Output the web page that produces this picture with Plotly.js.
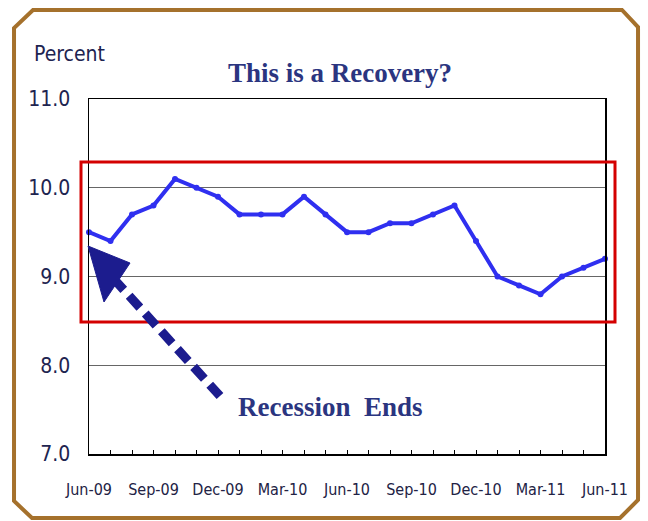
<!DOCTYPE html>
<html>
<head>
<meta charset="utf-8">
<script src="https://cdn.plot.ly/plotly-3.0.1.min.js"></script>
<style>
html,body{margin:0;padding:0;background:#fff;}
#chart{width:648px;height:521px;}
</style>
</head>
<body>
<div id="chart"></div>
<script>
// ---- data ----
const months = ["Jun-09","Jul-09","Aug-09","Sep-09","Oct-09","Nov-09","Dec-09",
  "Jan-10","Feb-10","Mar-10","Apr-10","May-10","Jun-10","Jul-10","Aug-10","Sep-10",
  "Oct-10","Nov-10","Dec-10","Jan-11","Feb-11","Mar-11","Apr-11","May-11","Jun-11"];
const unemployment = [9.5,9.4,9.7,9.8,10.1,10.0,9.9,9.7,9.7,9.7,9.9,9.7,9.5,9.5,9.6,9.6,9.7,9.8,9.4,9.0,8.9,8.8,9.0,9.1,9.2];
const tickLabels = ["Jun-09","","","Sep-09","","","Dec-09","","","Mar-10","","","Jun-10","","","Sep-10","","","Dec-10","","","Mar-11","","","Jun-11"];
const yTicks = [7,8,9,10,11];
const yTickText = ["7.0","8.0","9.0","10.0","11.0"];

// ---- layout helpers (pixel -> paper) ----
const L=89, R=605, T=99, B=454;
const px = x => (x-L)/(R-L);
const py = y => (B-y)/(B-T);
const xIdx = months.map((m,i)=>i);

const navy = '#2b3580';
const blue = '#2f2ff0';
const border = '#a5712c';
const narrow = 'Liberation Sans Narrow, DejaVu Sans Condensed, Liberation Sans, Arial, sans-serif';

function poly(pts){
  return 'M' + pts.map(p=>px(p[0]).toFixed(4)+','+py(p[1]).toFixed(4)).join(' L') + ' Z';
}

const trace = {
  x: xIdx, y: unemployment, type:'scatter', mode:'lines+markers',
  line:{color:blue, width:4},
  marker:{color:blue, size:6},
  hoverinfo:'skip', cliponaxis:false
};

const layout = {
  width:648, height:521,
  margin:{l:L, r:648-R, t:T, b:521-B},
  paper_bgcolor:'#ffffff', plot_bgcolor:'#ffffff',
  showlegend:false,
  title:{text:'This is a Recovery?', x:340/648, xanchor:'center', y:1-73/521, yanchor:'middle',
    font:{family:'Liberation Serif, serif', size:27, color:navy, weight:'bold'}},
  xaxis:{
    range:[0,24], tickmode:'array', tickvals:xIdx, ticktext:tickLabels,
    ticks:'inside', ticklen:4, tickcolor:'#000', tickwidth:1,
    showline:true, linecolor:'#000', linewidth:1.5, mirror:true,
    showgrid:false, zeroline:false, ticklabelstandoff:20,
    tickfont:{family:narrow, size:16, color:'#222244'}
  },
  yaxis:{
    range:[7,11], tickmode:'array', tickvals:yTicks, ticktext:yTickText,
    ticks:'', showline:true, linecolor:'#000', linewidth:1.5, mirror:true,
    showgrid:true, gridcolor:'#666', gridwidth:1, zeroline:false,
    ticklabelstandoff:13,
    tickfont:{family:narrow, size:21, color:'#1e2450'}
  },
  shapes:[
    // chamfered brown frame
    {type:'path', xref:'paper', yref:'paper', layer:'above',
     path: poly([[33,10],[622,10],[638,27],[638,500],[620,518],[32,518],[14,501],[14,28]]),
     line:{color:border, width:4}, fillcolor:'rgba(0,0,0,0)'},
    // red highlight box
    {type:'rect', xref:'paper', yref:'paper', layer:'above',
     x0:px(81), x1:px(615), y0:py(322), y1:py(162),
     line:{color:'#d40000', width:3}},
    // dashed arrow shaft
    {type:'line', xref:'paper', yref:'paper', layer:'above',
     x0:px(113), y0:py(278), x1:px(220), y1:py(396),
     line:{color:'#1c1c8e', width:9, dash:'16px,8px'}},
    // arrow head
    {type:'path', xref:'paper', yref:'paper', layer:'above',
     path: poly([[88,246],[130,263],[104,302]]),
     line:{color:'#1c1c8e', width:1}, fillcolor:'#1c1c8e'}
  ],
  annotations:[
    {text:'Percent', xref:'paper', yref:'paper', x:px(32), y:py(54), xanchor:'left', yanchor:'middle',
     showarrow:false, font:{family:narrow, size:21, color:'#1e2450'}},
    {text:'Recession  Ends', xref:'paper', yref:'paper', x:px(330), y:py(407), xanchor:'center', yanchor:'middle',
     showarrow:false, font:{family:'Liberation Serif, serif', size:27, color:navy, weight:'bold'}}
  ]
};

Plotly.newPlot('chart', [trace], layout, {staticPlot:true, displayModeBar:false});
</script>
</body>
</html>
